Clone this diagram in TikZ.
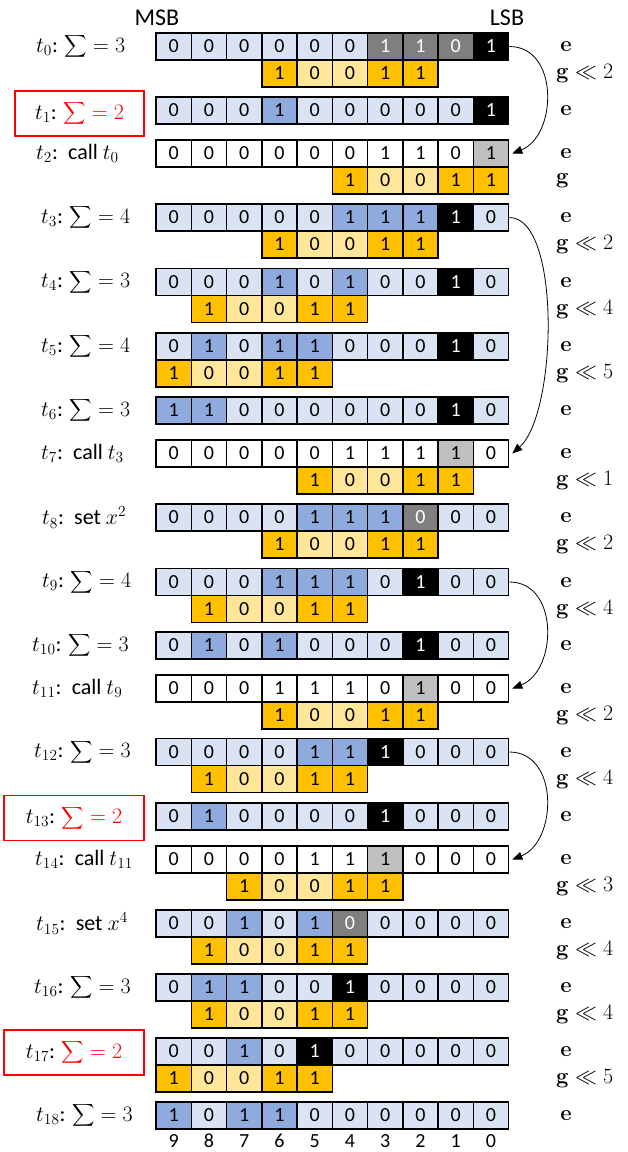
\documentclass[tikz,border=0pt]{standalone}
\usepackage{fix-cm}
\usepackage{exscale}
\usepackage[no-math]{fontspec}
\setmainfont{Carlito}
\usetikzlibrary{arrows.meta}
\definecolor{cL}{HTML}{DAE3F3}\colorlet{tL}{black}
\definecolor{cM}{HTML}{8FAADC}\colorlet{tM}{black}
\colorlet{cK}{black}\colorlet{tK}{white}
\definecolor{cD}{HTML}{7F7F7F}\colorlet{tD}{white}
\definecolor{cG}{HTML}{BFBFBF}\colorlet{tG}{black}
\colorlet{cW}{white}\colorlet{tW}{black}
\definecolor{cO}{HTML}{FFC000}\colorlet{tO}{black}
\definecolor{cY}{HTML}{FFE699}\colorlet{tY}{black}
\definecolor{redline}{HTML}{FF0000}
\newcommand\bigsum{\mathop{\vcenter{\hbox{\scalebox{0.75}{$\displaystyle\sum$}}}}}
\tikzset{
  cell/.style={draw=black, line width=1.5pt, minimum width=35.26pt, minimum height=27pt,
    inner sep=0pt, font=\fontsize{20}{24}\selectfont},
  lab/.style={font=\fontsize{22}{26}\selectfont, inner sep=1pt},
  llab/.style={lab, anchor=west},
  rlab/.style={font=\fontsize{22}{26}\selectfont, inner sep=1pt},
  bitlab/.style={font=\fontsize{24}{28}\selectfont, inner sep=1pt},
  redbox/.style={draw=redline, line width=1.2pt, minimum height=45pt},
  conn/.style={-{Triangle[length=10pt,width=8pt]}, line width=0.8pt}
}
\newcommand\erow[3]{\foreach \v/\s [count=\i from 0] in {#3}{%
  \node[cell,fill=c\s,text=t\s] (#1-\i) at ({156+(\i+0.5)*35.26},{#2+13.5}) {\v};}}
\newcommand\gcells[3]{\foreach \v/\s [count=\i from 0] in {1/O,0/Y,0/Y,1/O,1/O}{%
  \node[cell,fill=c\s,text=t\s] (#1-\i) at ({156+(5-#3+\i+0.5)*35.26},{#2+40.5}) {\v};}}
\begin{document}
\begin{tikzpicture}[x=1pt,y=-1pt]
\useasboundingbox (0,0) rectangle (628,1152);
\fill[white] (0,0) rectangle (628,1152);
\node[bitlab] (msb) at (157,18) {MSB};
\node[bitlab] (lsb) at (507,18) {LSB};
% rows
\erow{e0}{33}{0/L,0/L,0/L,0/L,0/L,0/L,1/D,1/D,0/D,1/K}
\gcells{g0}{33}{2}
\erow{e1}{97}{0/L,0/L,0/L,1/M,0/L,0/L,0/L,0/L,0/L,1/K}
\erow{e2}{140}{0/W,0/W,0/W,0/W,0/W,0/W,1/W,1/W,0/W,1/G}
\gcells{g2}{140}{0}
\erow{e3}{204}{0/L,0/L,0/L,0/L,0/L,1/M,1/M,1/M,1/K,0/L}
\gcells{g3}{204}{2}
\erow{e4}{268.5}{0/L,0/L,0/L,1/M,0/L,1/M,0/L,0/L,1/K,0/L}
\gcells{g4}{268.5}{4}
\erow{e5}{333}{0/L,1/M,0/L,1/M,1/M,0/L,0/L,0/L,1/K,0/L}
\gcells{g5}{333}{5}
\erow{e6}{397}{1/M,1/M,0/L,0/L,0/L,0/L,0/L,0/L,1/K,0/L}
\erow{e7}{440}{0/W,0/W,0/W,0/W,0/W,1/W,1/W,1/W,1/G,0/W}
\gcells{g7}{440}{1}
\erow{e8}{504}{0/L,0/L,0/L,0/L,1/M,1/M,1/M,0/D,0/L,0/L}
\gcells{g8}{504}{2}
\erow{e9}{568.5}{0/L,0/L,0/L,1/M,1/M,1/M,0/L,1/K,0/L,0/L}
\gcells{g9}{568.5}{4}
\erow{e10}{632}{0/L,1/M,0/L,1/M,0/L,0/L,0/L,1/K,0/L,0/L}
\erow{e11}{675}{0/W,0/W,0/W,1/W,1/W,1/W,0/W,1/G,0/W,0/W}
\gcells{g11}{675}{2}
\erow{e12}{738.5}{0/L,0/L,0/L,0/L,1/M,1/M,1/K,0/L,0/L,0/L}
\gcells{g12}{738.5}{4}
\erow{e13}{803}{0/L,1/M,0/L,0/L,0/L,0/L,1/K,0/L,0/L,0/L}
\erow{e14}{846}{0/W,0/W,0/W,0/W,1/W,1/W,1/G,0/W,0/W,0/W}
\gcells{g14}{846}{3}
\erow{e15}{910}{0/L,0/L,1/M,0/L,1/M,0/D,0/L,0/L,0/L,0/L}
\gcells{g15}{910}{4}
\erow{e16}{974}{0/L,1/M,1/M,0/L,0/L,1/K,0/L,0/L,0/L,0/L}
\gcells{g16}{974}{4}
\erow{e17}{1038}{0/L,0/L,1/M,0/L,1/K,0/L,0/L,0/L,0/L,0/L}
\gcells{g17}{1038}{5}
\erow{e18}{1102}{1/M,0/L,1/M,1/M,0/L,0/L,0/L,0/L,0/L,0/L}
% column numbers
\foreach \j in {0,...,9}{\node[font=\fontsize{20}{24}\selectfont,inner sep=0pt] (n\j) at ({156+(9-\j+0.5)*35.26},1141) {\j};}
% left labels
\node[llab] (l0) at (35,46.5) {$t_0$: $\bigsum = 3$};
\node[lab,redbox,minimum width=129pt] (l1) at (79.5,113.5) {$t_1$: \textcolor{redline}{$\bigsum = 2$}};
\node[llab] (l2) at (35,153.5) {$t_2$:\, call $t_0$};
\node[llab] (l3) at (40,217.5) {$t_3$: $\bigsum = 4$};
\node[llab] (l4) at (40,282) {$t_4$: $\bigsum = 3$};
\node[llab] (l5) at (40,346.5) {$t_5$: $\bigsum = 4$};
\node[llab] (l6) at (40,410.5) {$t_6$: $\bigsum = 3$};
\node[llab] (l7) at (40,453.5) {$t_7$:\, call $t_3$};
\node[llab] (l8) at (41,517.5) {$t_8$:\, set $x^2$};
\node[llab] (l9) at (41,582) {$t_9$: $\bigsum = 4$};
\node[llab] (l10) at (31,645.5) {$t_{10}$: $\bigsum = 3$};
\node[llab] (l11) at (31,688.5) {$t_{11}$:\, call $t_9$};
\node[llab] (l12) at (33,752) {$t_{12}$: $\bigsum = 3$};
\node[lab,redbox,minimum width=140pt] (l13) at (74,818) {$t_{13}$: \textcolor{redline}{$\bigsum = 2$}};
\node[llab] (l14) at (34,859.5) {$t_{14}$:\, call $t_{11}$};
\node[llab] (l15) at (35,923.5) {$t_{15}$:\, set $x^4$};
\node[llab] (l16) at (33,987.5) {$t_{16}$: $\bigsum = 3$};
\node[lab,redbox,minimum width=140pt] (l17) at (74,1052.5) {$t_{17}$: \textcolor{redline}{$\bigsum = 2$}};
\node[llab] (l18) at (35,1115.5) {$t_{18}$: $\bigsum = 3$};
% right labels
\foreach \n/\y in {0/33,1/97,2/140,3/204,4/268.5,5/333,6/397,7/440,8/504,9/568.5,10/632,11/675,12/738.5,13/803,14/846,15/910,16/974,17/1038,18/1102}{
  \node[rlab] (re\n) at (566,\y+14) {$\mathbf{e}$};}
\foreach \n/\y/\s in {0/33/2,3/204/2,4/268.5/4,5/333/5,7/440/1,8/504/2,9/568.5/4,11/675/2,12/738.5/4,14/846/3,15/910/4,16/974/4,17/1038/5}{
  \node[rlab,anchor=west] (rg\n) at (555,\y+41) {$\mathbf{g}\ll \s$};}
\node[rlab,anchor=west] (rg2) at (555,181) {$\mathbf{g}$};
% connectors
\draw[conn] (e0-9.east) .. controls +(50,0) and +(45,-18) .. ([xshift=3pt]e2-9.east);
\draw[conn] (e3-9.east) .. controls +(52,0) and +(45,-40) .. ([xshift=3pt]e7-9.east);
\draw[conn] (e9-9.east) .. controls +(50,0) and +(45,-18) .. ([xshift=3pt]e11-9.east);
\draw[conn] (e12-9.east) .. controls +(50,0) and +(45,-18) .. ([xshift=3pt]e14-9.east);
\end{tikzpicture}
\end{document}
